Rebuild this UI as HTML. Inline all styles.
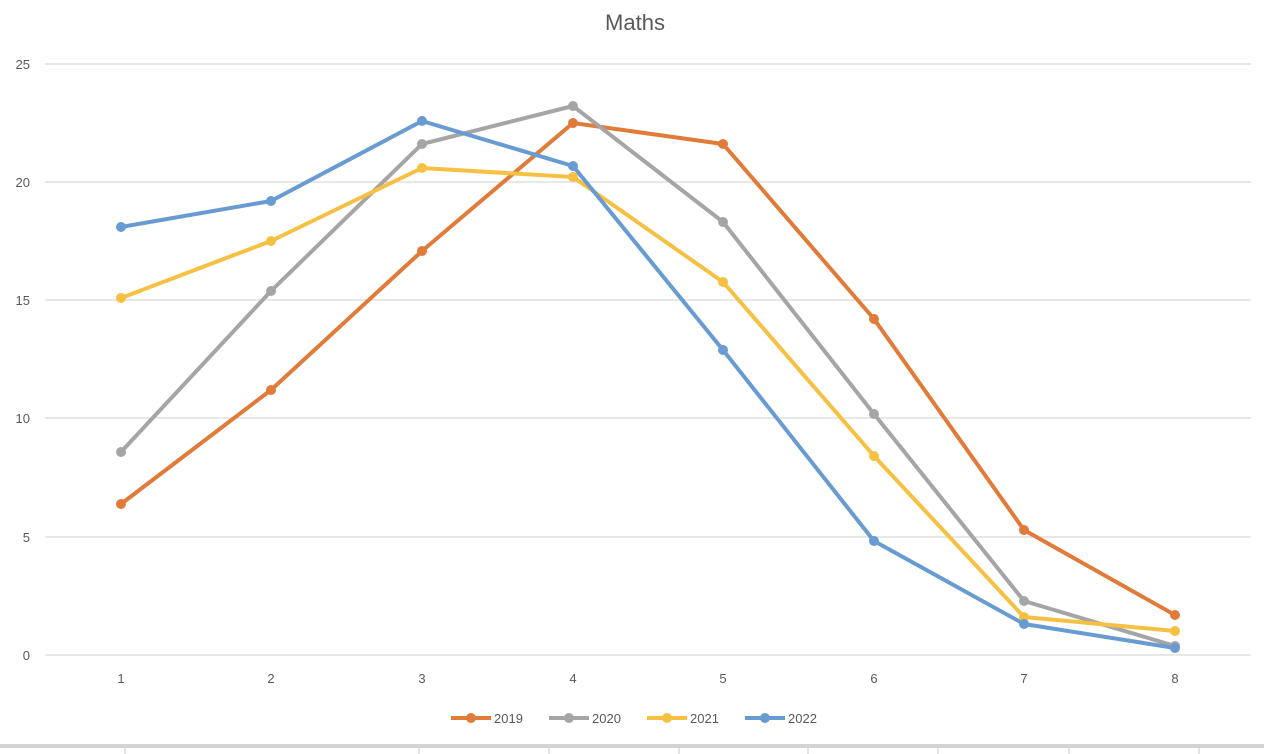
<!DOCTYPE html>
<html><head><meta charset="utf-8"><style>body{margin:0;background:#fff}svg{display:block}text{font-family:"Liberation Sans",sans-serif;fill:#595959}</style></head>
<body>
<svg width="1264" height="754" viewBox="0 0 1264 754" xmlns="http://www.w3.org/2000/svg">
<text x="635" y="30" font-size="22" text-anchor="middle">Maths</text>
<g stroke="#d9d9d9" stroke-width="1.2">
<line x1="45" y1="64" x2="1251" y2="64"/><line x1="45" y1="182" x2="1251" y2="182"/><line x1="45" y1="300" x2="1251" y2="300"/><line x1="45" y1="418" x2="1251" y2="418"/><line x1="45" y1="537" x2="1251" y2="537"/><line x1="45" y1="655" x2="1251" y2="655"/>
</g>
<g font-size="13" text-anchor="end">
<text x="30" y="69">25</text><text x="30" y="187">20</text><text x="30" y="305">15</text><text x="30" y="423">10</text><text x="30" y="542">5</text><text x="30" y="660">0</text>
</g>
<g font-size="13" text-anchor="middle">
<text x="121" y="683">1</text><text x="271" y="683">2</text><text x="422" y="683">3</text><text x="573" y="683">4</text><text x="723" y="683">5</text><text x="874" y="683">6</text><text x="1024" y="683">7</text><text x="1175" y="683">8</text>
</g>
<g fill="none" stroke-width="4" stroke-linejoin="round">
<polyline stroke="#E07B39" points="121,504 271,390 422,251 573,123 723,144 874,319 1024,530 1175,615"/>
<polyline stroke="#A5A5A5" points="121,452 271,291 422,144 573,106 723,222 874,414 1024,601 1175,646"/>
<polyline stroke="#F6C142" points="121,298 271,241 422,168 573,177 723,282 874,456 1024,617 1175,631"/>
<polyline stroke="#699BD3" points="121,227 271,201 422,121 573,166 723,350 874,541 1024,624 1175,648"/>
</g>
<g fill="#E07B39"><circle cx="121" cy="504" r="5"/><circle cx="271" cy="390" r="5"/><circle cx="422" cy="251" r="5"/><circle cx="573" cy="123" r="5"/><circle cx="723" cy="144" r="5"/><circle cx="874" cy="319" r="5"/><circle cx="1024" cy="530" r="5"/><circle cx="1175" cy="615" r="5"/></g>
<g fill="#A5A5A5"><circle cx="121" cy="452" r="5"/><circle cx="271" cy="291" r="5"/><circle cx="422" cy="144" r="5"/><circle cx="573" cy="106" r="5"/><circle cx="723" cy="222" r="5"/><circle cx="874" cy="414" r="5"/><circle cx="1024" cy="601" r="5"/><circle cx="1175" cy="646" r="5"/></g>
<g fill="#F6C142"><circle cx="121" cy="298" r="5"/><circle cx="271" cy="241" r="5"/><circle cx="422" cy="168" r="5"/><circle cx="573" cy="177" r="5"/><circle cx="723" cy="282" r="5"/><circle cx="874" cy="456" r="5"/><circle cx="1024" cy="617" r="5"/><circle cx="1175" cy="631" r="5"/></g>
<g fill="#699BD3"><circle cx="121" cy="227" r="5"/><circle cx="271" cy="201" r="5"/><circle cx="422" cy="121" r="5"/><circle cx="573" cy="166" r="5"/><circle cx="723" cy="350" r="5"/><circle cx="874" cy="541" r="5"/><circle cx="1024" cy="624" r="5"/><circle cx="1175" cy="648" r="5"/></g>
<g font-size="13" stroke-width="4">
<line x1="451" y1="718" x2="491" y2="718" stroke="#E07B39"/><circle cx="471" cy="718" r="5" fill="#E07B39"/><text x="494" y="723">2019</text>
<line x1="549" y1="718" x2="589" y2="718" stroke="#A5A5A5"/><circle cx="569" cy="718" r="5" fill="#A5A5A5"/><text x="592" y="723">2020</text>
<line x1="647" y1="718" x2="687" y2="718" stroke="#F6C142"/><circle cx="667" cy="718" r="5" fill="#F6C142"/><text x="690" y="723">2021</text>
<line x1="745" y1="718" x2="785" y2="718" stroke="#699BD3"/><circle cx="765" cy="718" r="5" fill="#699BD3"/><text x="788" y="723">2022</text>
</g>
<rect x="0" y="744" width="1264" height="4" fill="#d4d4d4"/>
<g stroke="#c8c8c8" stroke-width="1"><line x1="125" y1="748" x2="125" y2="754"/><line x1="419" y1="748" x2="419" y2="754"/><line x1="549" y1="748" x2="549" y2="754"/><line x1="679" y1="748" x2="679" y2="754"/><line x1="808" y1="748" x2="808" y2="754"/><line x1="938" y1="748" x2="938" y2="754"/><line x1="1069" y1="748" x2="1069" y2="754"/><line x1="1199" y1="748" x2="1199" y2="754"/></g>
</svg>
</body></html>
